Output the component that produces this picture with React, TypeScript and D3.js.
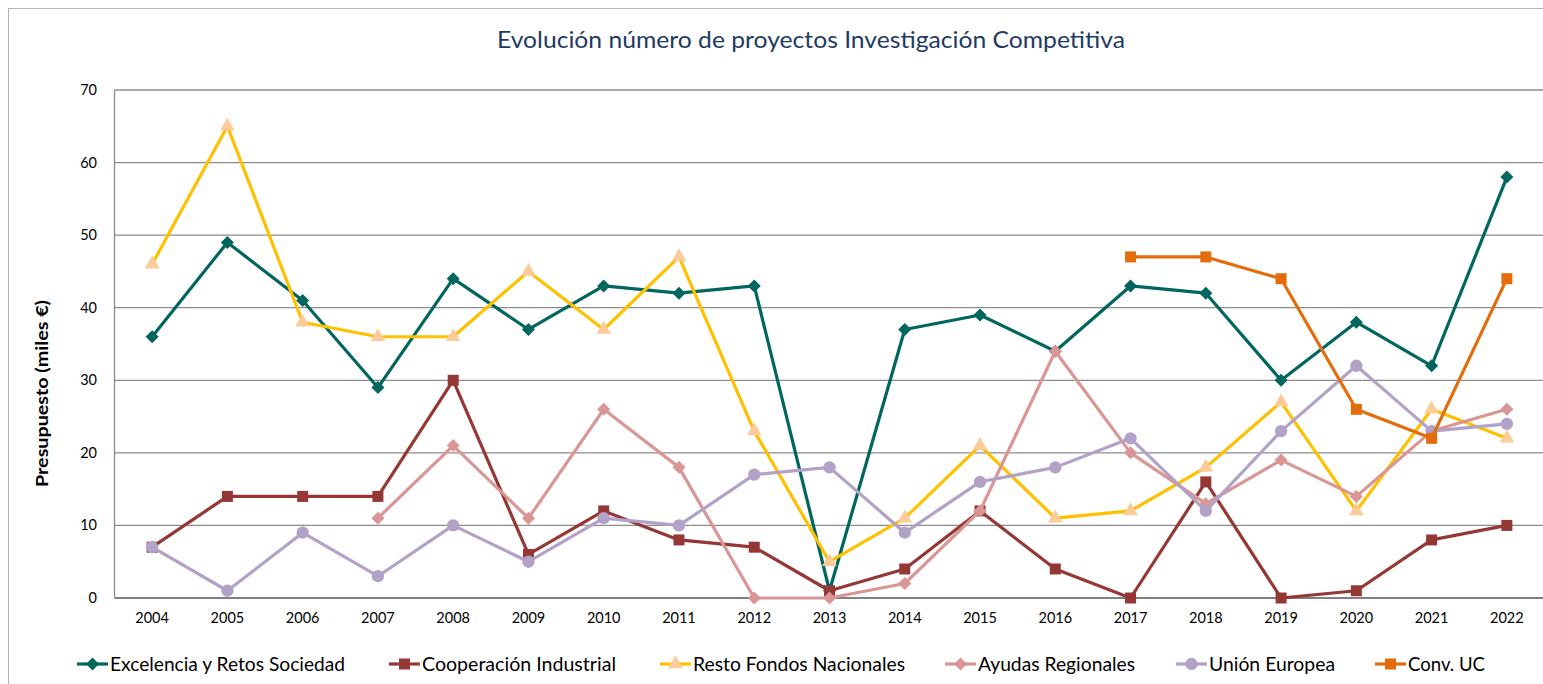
import React from 'react';
import { scaleLinear, scalePoint, line, symbol, symbolSquare, symbolTriangle, symbolCircle } from 'd3';

const years = ['2004', '2005', '2006', '2007', '2008', '2009', '2010', '2011', '2012', '2013', '2014', '2015', '2016', '2017', '2018', '2019', '2020', '2021', '2022'];
const yTicks = [0, 10, 20, 30, 40, 50, 60, 70];

const excelencia = [36, 49, 41, 29, 44, 37, 43, 42, 43, 1, 37, 39, 34, 43, 42, 30, 38, 32, 58];
const cooperacion = [7, 14, 14, 14, 30, 6, 12, 8, 7, 1, 4, 12, 4, 0, 16, 0, 1, 8, 10];
const restoFondos = [46, 65, 38, 36, 36, 45, 37, 47, 23, 5, 11, 21, 11, 12, 18, 27, 12, 26, 22];
const ayudasRegionales = [null, null, null, 11, 21, 11, 26, 18, 0, 0, 2, 12, 34, 20, 13, 19, 14, 23, 26];
const unionEuropea = [7, 1, 9, 3, 10, 5, 11, 10, 17, 18, 9, 16, 18, 22, 12, 23, 32, 23, 24];
const convUC = [null, null, null, null, null, null, null, null, null, null, null, null, null, 47, 47, 44, 26, 22, 44];

// Excel-style diamond: a square turned 45 degrees
const diamond = 'M0,-6.5L6.5,0L0,6.5L-6.5,0Z';
const sym = (type: any, size: number) => symbol().type(type).size(size)() || '';

const series = [
  { name: 'Excelencia y Retos Sociedad', values: excelencia, stroke: '#00665E', fill: '#00665E', marker: diamond, legendX: 77, textW: 235 },
  { name: 'Cooperación Industrial', values: cooperacion, stroke: '#953735', fill: '#953735', marker: sym(symbolSquare, 121), legendX: 389, textW: 194 },
  { name: 'Resto Fondos Nacionales', values: restoFondos, stroke: '#FFC000', fill: '#FBCB9A', marker: sym(symbolTriangle, 95), legendX: 660, textW: 212 },
  { name: 'Ayudas Regionales', values: ayudasRegionales, stroke: '#D99694', fill: '#D99694', marker: diamond, legendX: 945, textW: 157 },
  { name: 'Unión Europea', values: unionEuropea, stroke: '#B3A2C7', fill: '#B3A2C7', marker: sym(symbolCircle, 120), legendX: 1176, textW: 126 },
  { name: 'Conv. UC', values: convUC, stroke: '#E46C0A', fill: '#E46C0A', marker: sym(symbolSquare, 121), legendX: 1375, textW: 77 },
];

const font = 'Lato, "Open Sans", sans-serif';

export default function App() {
  const width = 1543;
  const height = 684;
  const left = 114.5;
  const right = 1544.5;
  const top = 90;
  const bottom = 598;

  const x = scalePoint<string>().domain(years).range([left, right]).padding(0.5);
  const y = scaleLinear().domain([0, 70]).range([bottom, top]);

  const lineGen = line<number | null>()
    .defined((d) => d !== null)
    .x((_, i) => x(years[i]) as number)
    .y((d) => y(d as number));

  return (
    <svg width={width} height={height} style={{ position: 'absolute', left: 0, top: 0, background: '#fff' }}>
      <rect x={8.5} y={8.5} width={width} height={height} fill="#fff" stroke="#b4b4b4" />
      <text x={497} y={48} fontFamily={font} fontSize={24} fill="#1F3B63" textLength={628} lengthAdjust="spacingAndGlyphs">
        Evolución número de proyectos Investigación Competitiva
      </text>

      {/* grid */}
      {yTicks.map((t) => (
        <g key={t}>
          <line x1={left} x2={right} y1={y(t)} y2={y(t)} stroke={t === 0 ? '#808080' : '#8c8c8c'} strokeWidth={t === 0 ? 2 : 1.3} />
          <text x={97} y={y(t) + 5} textAnchor="end" fontFamily={font} fontSize={14.5} fill="#000">{t}</text>
        </g>
      ))}
      <line x1={left} x2={left} y1={top} y2={bottom} stroke="#8c8c8c" strokeWidth={1.3} />
      {years.map((yr) => (
        <text key={yr} x={x(yr)} y={623} textAnchor="middle" fontFamily={font} fontSize={14.5} fill="#000">{yr}</text>
      ))}

      <text transform="translate(48,487) rotate(-90)" fontFamily={font} fontSize={17} fontWeight="bold" fill="#000" textLength={187} lengthAdjust="spacingAndGlyphs">
        Presupuesto (miles €)
      </text>

      {series.map((s) => (
        <g key={s.name}>
          <path d={lineGen(s.values) || ''} fill="none" stroke={s.stroke} strokeWidth={3.2} strokeLinejoin="round" />
          {s.values.map((v, i) =>
            v === null ? null : (
              <path key={i} d={s.marker} transform={`translate(${x(years[i])},${y(v)})`} fill={s.fill} />
            )
          )}
        </g>
      ))}

      {/* legend */}
      {series.map((s) => (
        <g key={'lg' + s.name} transform={`translate(${s.legendX},664)`}>
          <line x1={0} x2={31} y1={0} y2={0} stroke={s.stroke} strokeWidth={3.2} />
          <path d={s.marker} transform="translate(15.5,0)" fill={s.fill} />
          <text x={33} y={6.5} fontFamily={font} fontSize={19} fill="#000" textLength={s.textW} lengthAdjust="spacingAndGlyphs">{s.name}</text>
        </g>
      ))}
    </svg>
  );
}
